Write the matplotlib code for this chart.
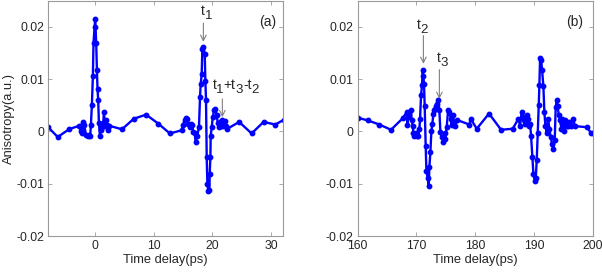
import matplotlib
matplotlib.use("Agg")
import matplotlib.pyplot as plt
from matplotlib.transforms import offset_copy

plt.rcParams['font.family'] = ['Liberation Sans', 'DejaVu Sans']

# Panel (a): time delay (ps) and anisotropy (a.u.)
t_a = [-8.0, -6.4, -4.4, -2.69, -2.51, -2.4, -2.29, -2.11, -2.0, -1.89, -1.54, -1.31, -1.14, -0.86,
       -0.74, -0.57, -0.4, -0.29, -0.11, 0.0, 0.17, 0.29, 0.4, 0.51, 0.63, 0.8, 0.97, 1.14, 1.37,
       1.49, 1.66, 1.83, 2.0, 2.11, 2.29, 4.57, 6.57, 8.69, 10.74, 12.74, 14.74, 15.03, 15.26,
       15.49, 15.71, 15.89, 16.11, 16.29, 16.51, 16.74, 16.97, 17.14, 17.43, 17.71, 17.89, 18.0,
       18.17, 18.29, 18.46, 18.69, 18.8, 18.91, 19.03, 19.14, 19.31, 19.49, 19.54, 19.66, 19.71,
       19.89, 20.06, 20.29, 20.51, 20.74, 20.91, 21.14, 21.31, 21.49, 21.66, 21.89, 22.11, 22.34,
       22.57, 24.57, 26.69, 28.74, 30.74, 32.17]
r_a = [0.00076, -0.00108, 0.00045, 0.00108, 0.00076, 0.0, -0.00032, 0.00146, 0.00178, 0.00115,
       -0.00076, -0.00096, -0.00076, -0.00096, 0.00115, 0.00497, 0.0105, 0.0169, 0.0199, 0.0215,
       0.0168, 0.0117, 0.008, 0.006, 0.0016, -0.0008, 0.0002, 0.0008, 0.0016, 0.0037, 0.001,
       0.0022, 0.0013, 0.0002, 0.0011, 0.0004, 0.0024, 0.0032, 0.0015, -0.0004, 0.0002, 0.0013,
       0.0022, 0.0026, 0.0024, 0.0015, 0.0008, 0.0015, 0.0013, -0.0001, -0.0004, -0.002, -0.0008,
       0.0008, 0.0066, 0.009, 0.0109, 0.0158, 0.0161, 0.0148, 0.0097, 0.006, -0.0049, -0.01,
       -0.0114, -0.0113, -0.0081, -0.0049, -0.0008, 0.0008, 0.0027, 0.004, 0.0043, 0.0031, 0.0016,
       0.0008, 0.0018, 0.001, 0.0021, 0.0011, 0.002, 0.0011, 0.0005, 0.0018, -0.0004, 0.0018,
       0.0013, 0.0022]

# Panel (b)
t_b = [160.0, 161.7, 163.69, 165.67, 167.66, 168.34, 168.45, 168.62, 168.79, 169.02, 169.19,
       169.36, 169.48, 169.65, 169.87, 170.04, 170.33, 170.5, 170.61, 170.78, 170.95, 171.06,
       171.18, 171.29, 171.4, 171.57, 171.69, 171.91, 172.09, 172.2, 172.37, 172.54, 172.71,
       172.88, 172.99, 173.16, 173.33, 173.56, 173.73, 173.9, 174.07, 174.3, 174.58, 174.81,
       174.92, 175.15, 175.38, 175.6, 175.83, 176.0, 176.17, 176.4, 176.62, 176.85, 179.0, 179.23,
       180.26, 182.35, 184.4, 186.38, 187.35, 187.63, 187.91, 188.09, 188.31, 188.48, 188.77,
       188.94, 189.11, 189.33, 189.5, 189.73, 189.9, 190.13, 190.3, 190.47, 190.64, 190.81,
       190.92, 191.04, 191.21, 191.38, 191.6, 191.77, 191.94, 192.17, 192.4, 192.62, 192.85,
       193.08, 193.3, 193.53, 193.7, 193.87, 194.04, 194.21, 194.44, 194.67, 194.84, 195.01,
       195.18, 195.35, 195.57, 195.8, 196.03, 196.25, 196.71, 196.94, 198.98, 199.72, 200.0]
r_b = [0.0026, 0.0021, 0.0013, 0.0003, 0.0025, 0.0037, 0.0013, 0.0027, 0.0034, 0.0041, 0.0022,
       0.0011, -0.0004, -0.0008, -0.0004, -0.0008, -0.0008, 0.0005, 0.0024, 0.0069, 0.0088, 0.0118,
       0.0105, 0.009, 0.0048, -0.0028, -0.0075, -0.009, -0.0104, -0.0068, -0.004, 0.0001, 0.0015,
       0.0034, 0.004, 0.0043, 0.0048, 0.0053, 0.0059, 0.004, -0.0001, -0.0011, -0.002, -0.0004,
       -0.0014, 0.0008, 0.004, 0.0037, 0.0024, 0.0013, 0.0031, 0.0018, 0.0011, 0.0022, 0.0013,
       0.0024, 0.0005, 0.0034, 0.0003, 0.0005, 0.0024, 0.0011, 0.0037, 0.0027, 0.0021, 0.0015,
       0.0031, 0.0024, 0.0011, 0.0015, -0.0008, -0.0049, -0.0081, -0.0094, -0.009, -0.0055,
       -0.0004, 0.005, 0.0088, 0.014, 0.0137, 0.0117, 0.0086, 0.0037, 0.0011, -0.0003, 0.0024,
       0.0005, -0.0011, -0.0024, -0.0033, -0.0017, 0.0046, 0.006, 0.0048, 0.0031, 0.0021, 0.0005,
       0.0024, 0.0015, 0.0001, 0.0021, 0.0011, 0.001, 0.0018, 0.0011, 0.0024, 0.001, 0.0008,
       -0.0003, -0.0003]

y_ticks = [-0.02, -0.01, 0, 0.01, 0.02]
y_ticklabels = ['-0.02', '-0.01', '0', '0.01', '0.02']
xticks_a = [0, 10, 20, 30]
xticks_b = [160, 170, 180, 190, 200]

FS = 8.8
LFS = 9.3
ANFS = 10.0
SUBFS = 9.5
SPINE = '#9a9a9a'
TXT = '#262626'
BLUE = '#0000ff'

fig = plt.figure(figsize=(6.02, 2.73), dpi=100)
ax1 = fig.add_axes([0.0803, 0.1355, 0.3893, 0.8625])
ax2 = fig.add_axes([0.5942, 0.1355, 0.3904, 0.8625])

for ax, t, r, xl, xt in [(ax1, t_a, r_a, (-8, 32), xticks_a), (ax2, t_b, r_b, (160, 200), xticks_b)]:
    ax.plot(t, r, '-o', color=BLUE, lw=1.7, ms=3.2, mec=BLUE, mfc=BLUE)
    ax.set_xlim(*xl)
    ax.set_ylim(-0.02, 0.025)
    ax.set_xticks(xt)
    ax.set_xticklabels([str(v) for v in xt])
    ax.set_yticks(y_ticks)
    ax.set_yticklabels(y_ticklabels)
    ax.tick_params(direction='in', length=3, width=0.6, colors=SPINE, labelcolor=TXT,
                   labelsize=FS, top=True, right=True, pad=3)
    for s in ax.spines.values():
        s.set_color(SPINE)
        s.set_linewidth(0.8)
    ax.set_xlabel('Time delay(ps)', fontsize=LFS, color=TXT, labelpad=1)

ax1.set_ylabel('Anisotropy(a.u.)', fontsize=LFS, color=TXT, labelpad=1)

renderer = fig.canvas.get_renderer()


def sub_text(ax, x, y, pieces):
    """Draw text pieces starting at (x, y) data; pieces are (string, is_subscript)."""
    dx = 0.0
    for s, is_sub in pieces:
        tr = offset_copy(ax.transData, fig=fig, x=dx, y=(-4.0 if is_sub else 0.0), units='dots')
        txt = ax.text(x, y, s, transform=tr, fontsize=(SUBFS if is_sub else ANFS), color=TXT,
                      ha='left', va='baseline')
        dx += txt.get_window_extent(renderer=renderer).width


arrowprops = dict(arrowstyle='->', color='#808080', lw=0.8, shrinkA=0, shrinkB=0)

ax1.annotate('', xy=(18.46, 0.0171), xytext=(18.46, 0.0207), arrowprops=arrowprops)
sub_text(ax1, 18.0, 0.0222, [('t', False), ('1', True)])
ax1.annotate('', xy=(21.7, 0.0027), xytext=(21.7, 0.0062), arrowprops=arrowprops)
sub_text(ax1, 20.0, 0.0080, [('t', False), ('1', True), ('+t', False), ('3', True),
                             ('-t', False), ('2', True)])
ax1.text(29.4, 0.0209, '(a)', fontsize=ANFS, color=TXT, ha='center', va='center')

ax2.annotate('', xy=(171.18, 0.0129), xytext=(171.18, 0.0183), arrowprops=arrowprops)
sub_text(ax2, 170.0, 0.0195, [('t', False), ('2', True)])
ax2.annotate('', xy=(173.9, 0.0062), xytext=(173.9, 0.0118), arrowprops=arrowprops)
sub_text(ax2, 173.4, 0.0132, [('t', False), ('3', True)])
ax2.text(197.0, 0.0209, '(b)', fontsize=ANFS, color=TXT, ha='center', va='center')

fig.savefig('out.png', dpi=100)
